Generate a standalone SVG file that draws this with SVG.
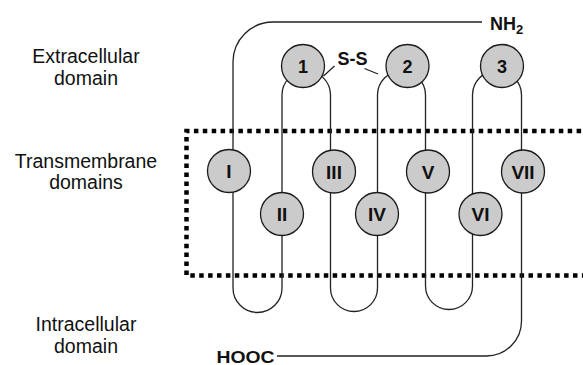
<svg xmlns="http://www.w3.org/2000/svg" width="583" height="365" viewBox="0 0 583 365">
<style>
.lbl{font-family:"Liberation Sans",Arial,sans-serif;font-size:19.5px;fill:#111;text-anchor:middle}
.b{font-family:"Liberation Sans",Arial,sans-serif;font-weight:bold;fill:#111}
.nd circle{fill:#cbcbcb;stroke:#1a1a1a;stroke-width:1.3}
.nd text{font-family:"Liberation Sans",Arial,sans-serif;font-weight:bold;font-size:19px;fill:#111;text-anchor:middle}
.ln{fill:none;stroke:#222;stroke-width:1.3}
</style>
<rect width="583" height="365" fill="#fff"/>
<g id="labels">
<text class="lbl" x="86" y="63">Extracellular</text>
<text class="lbl" x="86" y="85">domain</text>
<text class="lbl" x="86" y="168">Transmembrane</text>
<text class="lbl" x="86" y="189">domains</text>
<text class="lbl" x="86" y="331">Intracellular</text>
<text class="lbl" x="86" y="353">domain</text>
</g>
<g id="membrane">
<path d="M 590 131 H 186.5 V 275.5 H 590" fill="none" stroke="#000" stroke-width="4.5" stroke-dasharray="4.5 4.4"/>
</g>
<g id="connectors">
<path class="ln" d="M 482 22 H 273 A 40 40 0 0 0 233 62 V 288 A 24.5 24.5 0 0 0 282 288 V 95 A 24.25 24.25 0 0 1 330.5 95 V 288 A 23.5 23.5 0 0 0 377.5 288 V 95 A 24 24 0 0 1 425.5 95 V 286 A 23.5 23.5 0 0 0 472.5 286 V 95 A 24.5 24.5 0 0 1 521.5 95 V 321 A 35 35 0 0 1 486.5 356 H 277"/>
<path class="ln" d="M 323.5 76 L 334.5 66 M 364.5 68.5 L 378 74"/>
</g>
<g id="node-1" class="nd"><circle cx="303" cy="66" r="21.5"/><text x="303" y="72.5" style="font-size:18px">1</text></g>
<g id="node-2" class="nd"><circle cx="407.5" cy="66" r="21.5"/><text x="407.5" y="72.5" style="font-size:18px">2</text></g>
<g id="node-3" class="nd"><circle cx="502" cy="66" r="21.5"/><text x="502" y="72.5" style="font-size:18px">3</text></g>
<g id="node-I" class="nd"><circle cx="229" cy="171" r="21.5"/><text x="229" y="178">I</text></g>
<g id="node-II" class="nd"><circle cx="282" cy="214" r="21.5"/><text x="282" y="221">II</text></g>
<g id="node-III" class="nd"><circle cx="334" cy="171.5" r="21.5"/><text x="334" y="178.5">III</text></g>
<g id="node-IV" class="nd"><circle cx="377" cy="214" r="21.5"/><text x="377" y="221">IV</text></g>
<g id="node-V" class="nd"><circle cx="428" cy="171.5" r="21.5"/><text x="428" y="178.5">V</text></g>
<g id="node-VI" class="nd"><circle cx="480.5" cy="214" r="21.5"/><text x="480.5" y="221">VI</text></g>
<g id="node-VII" class="nd"><circle cx="523" cy="171.5" r="21.5"/><text x="523" y="178.5">VII</text></g>
<g id="terminals">
<text class="b" x="352.5" y="65" font-size="18" text-anchor="middle">S-S</text>
<text class="b" x="490" y="29.5" font-size="18">NH<tspan font-size="13" dy="4.5">2</tspan></text>
<text class="b" x="216.5" y="363" font-size="16.5" textLength="58" lengthAdjust="spacingAndGlyphs">HOOC</text>
</g>
</svg>
